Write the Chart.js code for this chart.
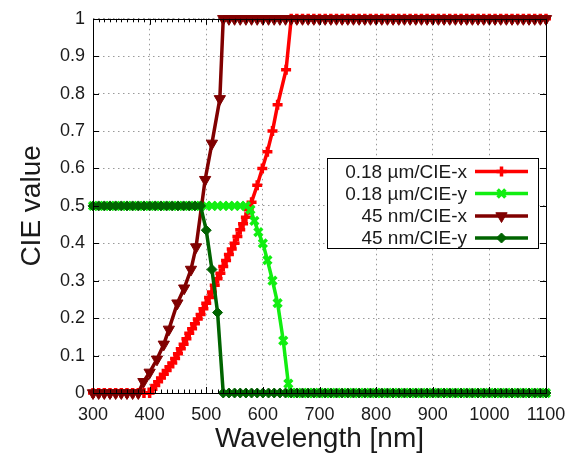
<!DOCTYPE html>
<html>
<head>
<meta charset="utf-8">
<title>CIE value vs wavelength</title>
<script src="https://cdn.jsdelivr.net/npm/chart.js@4.4.1/dist/chart.umd.min.js"></script>
<style>
  html, body { margin: 0; padding: 0; background: #fff; }
  canvas { display: block; }
</style>
</head>
<body>
<canvas id="cie-chart" width="579" height="459"></canvas>
<script>
// Series labels
const seriesNames = ['0.18 \u00b5m/CIE-x', '0.18 \u00b5m/CIE-y', '45 nm/CIE-x', '45 nm/CIE-y'];

// 0.18 um / CIE-x
const wlRedX = [300, 310, 320, 330, 340, 350, 360, 370, 380, 390, 400,
  405, 410, 415, 420, 425, 430, 435, 440, 445, 450, 455, 460, 465, 470, 475, 480, 485, 490,
  495, 500, 505, 510, 515, 520, 525, 530, 535, 540, 545, 550, 555, 560, 565, 570, 575, 580,
  590, 599, 608, 617, 626, 641, 650,
  660, 670, 680, 690, 700, 710, 720, 730, 740, 750, 760, 770, 780, 790, 800, 810, 820, 830,
  840, 850, 860, 870, 880, 890, 900, 910, 920, 930, 940, 950, 960, 970, 980, 990, 1000,
  1010, 1020, 1030, 1040, 1050, 1060, 1070, 1080, 1090, 1100];
const cieRedX = [0, 0, 0, 0, 0, 0, 0, 0, 0, 0, 0,
  0.01, 0.02, 0.03, 0.04, 0.05, 0.06, 0.07, 0.08, 0.092, 0.105, 0.118, 0.13, 0.145, 0.16, 0.172, 0.185, 0.198, 0.21,
  0.225, 0.24, 0.255, 0.27, 0.288, 0.305, 0.32, 0.338, 0.354, 0.37, 0.385, 0.40, 0.418, 0.436, 0.452, 0.47, 0.49, 0.51,
  0.555, 0.60, 0.645, 0.70, 0.77, 0.864, 1,
  1, 1, 1, 1, 1, 1, 1, 1, 1, 1, 1, 1, 1, 1, 1, 1, 1, 1,
  1, 1, 1, 1, 1, 1, 1, 1, 1, 1, 1, 1, 1, 1, 1, 1, 1,
  1, 1, 1, 1, 1, 1, 1, 1, 1, 1];

// 0.18 um / CIE-y
const wlRedY = [300, 310, 320, 330, 340, 350, 360, 370, 380, 390, 400, 410, 420, 430,
  440, 450, 460, 470, 480, 490, 500, 510, 520, 530, 540, 550, 560, 570,
  578, 585, 592, 600, 608, 617, 626, 636, 645, 650,
  660, 670, 680, 690, 700, 710, 720, 730, 740, 750, 760, 770, 780, 790, 800, 810, 820, 830,
  840, 850, 860, 870, 880, 890, 900, 910, 920, 930, 940, 950, 960, 970, 980, 990, 1000,
  1010, 1020, 1030, 1040, 1050, 1060, 1070, 1080, 1090, 1100];
const cieRedY = [0.5, 0.5, 0.5, 0.5, 0.5, 0.5, 0.5, 0.5, 0.5, 0.5, 0.5, 0.5, 0.5, 0.5,
  0.5, 0.5, 0.5, 0.5, 0.5, 0.5, 0.5, 0.5, 0.5, 0.5, 0.5, 0.5, 0.5, 0.5,
  0.49, 0.46, 0.43, 0.40, 0.355, 0.30, 0.24, 0.14, 0.025, 0,
  0, 0, 0, 0, 0, 0, 0, 0, 0, 0, 0, 0, 0, 0, 0, 0, 0, 0,
  0, 0, 0, 0, 0, 0, 0, 0, 0, 0, 0, 0, 0, 0, 0, 0, 0,
  0, 0, 0, 0, 0, 0, 0, 0, 0, 0];

// 45 nm / CIE-x
const wlNanoX = [300, 310, 320, 330, 340, 350, 360, 370, 380,
  389, 400, 413, 425, 434, 449, 461, 473, 482, 498, 510, 524, 530,
  540, 550, 560, 570, 580, 590, 600, 610, 620, 630, 640, 650, 660, 670, 680, 690, 700,
  710, 720, 730, 740, 750, 760, 770, 780, 790, 800, 810, 820, 830, 840, 850, 860, 870,
  880, 890, 900, 910, 920, 930, 940, 950, 960, 970, 980, 990, 1000, 1010, 1020, 1030,
  1040, 1050, 1060, 1070, 1080, 1090, 1100];
const cieNanoX = [0, 0, 0, 0, 0, 0, 0, 0, 0,
  0.03, 0.055, 0.09, 0.13, 0.17, 0.24, 0.28, 0.33, 0.39, 0.57, 0.667, 0.786, 1,
  1, 1, 1, 1, 1, 1, 1, 1, 1, 1, 1, 1, 1, 1, 1, 1, 1,
  1, 1, 1, 1, 1, 1, 1, 1, 1, 1, 1, 1, 1, 1, 1, 1, 1,
  1, 1, 1, 1, 1, 1, 1, 1, 1, 1, 1, 1, 1, 1, 1, 1,
  1, 1, 1, 1, 1, 1, 1];

// 45 nm / CIE-y
const wlNanoY = [300, 310, 320, 330, 340, 350, 360, 370, 380, 390, 400, 410, 420, 430,
  440, 450, 460, 470, 480, 490, 500, 510, 520, 530,
  540, 550, 560, 570, 580, 590, 600, 610, 620, 630, 640, 650, 660, 670, 680, 690, 700,
  710, 720, 730, 740, 750, 760, 770, 780, 790, 800, 810, 820, 830, 840, 850, 860, 870,
  880, 890, 900, 910, 920, 930, 940, 950, 960, 970, 980, 990, 1000, 1010, 1020, 1030,
  1040, 1050, 1060, 1070, 1080, 1090, 1100];
const cieNanoY = [0.5, 0.5, 0.5, 0.5, 0.5, 0.5, 0.5, 0.5, 0.5, 0.5, 0.5, 0.5, 0.5, 0.5,
  0.5, 0.5, 0.5, 0.5, 0.5, 0.5, 0.435, 0.33, 0.215, 0,
  0, 0, 0, 0, 0, 0, 0, 0, 0, 0, 0, 0, 0, 0, 0, 0, 0,
  0, 0, 0, 0, 0, 0, 0, 0, 0, 0, 0, 0, 0, 0, 0, 0, 0,
  0, 0, 0, 0, 0, 0, 0, 0, 0, 0, 0, 0, 0, 0, 0, 0,
  0, 0, 0, 0, 0, 0, 0];

const FONT = "'Liberation Sans', Arial, sans-serif";
const TEXT_COLOR = '#1a1a1a';

function points(xs, ys) {
  return xs.map((x, i) => ({ x: x, y: ys[i] }));
}

function series(label, xs, ys, color, style, extra) {
  return Object.assign({
    label: label,
    data: points(xs, ys),
    borderColor: color,
    backgroundColor: color,
    borderWidth: 3.5,
    pointStyle: style,
    pointBorderColor: color,
    pointBackgroundColor: color,
    clip: false,
    tension: 0
  }, extra);
}

const datasets = [
  series(seriesNames[0], wlRedX, cieRedX, '#ff0000', 'cross',
    { pointRadius: 5, pointBorderWidth: 3.5, order: 4 }),
  series(seriesNames[1], wlRedY, cieRedY, '#11ee11', 'crossRot',
    { pointRadius: 5.5, pointBorderWidth: 3.5, order: 3 }),
  series(seriesNames[2], wlNanoX, cieNanoX, '#800000', 'triangle',
    { pointRadius: 6.5, pointBorderWidth: 1, pointRotation: 180, order: 2 }),
  series(seriesNames[3], wlNanoY, cieNanoY, '#006400', 'rectRot',
    { pointRadius: 5, pointBorderWidth: 1, order: 1 })
];

// Box border plus inward tick marks (minor every 10 nm on top/bottom)
const frameTicks = {
  id: 'frameTicks',
  afterDatasetsDraw(chart) {
    const { ctx, chartArea: a, scales: { x, y } } = chart;
    ctx.save();
    ctx.strokeStyle = '#000';
    ctx.lineWidth = 1;
    ctx.beginPath();
    for (let v = x.min; v <= x.max; v += 10) {
      const px = Math.round(x.getPixelForValue(v)) + 0.5;
      const len = v % 100 === 0 ? 6 : 3.5;
      ctx.moveTo(px, a.bottom);
      ctx.lineTo(px, a.bottom - len);
      ctx.moveTo(px, a.top);
      ctx.lineTo(px, a.top + len);
    }
    y.ticks.forEach(t => {
      const py = Math.round(y.getPixelForValue(t.value)) + 0.5;
      ctx.moveTo(a.left, py);
      ctx.lineTo(a.left + 6, py);
      ctx.moveTo(a.right, py);
      ctx.lineTo(a.right - 6, py);
    });
    ctx.stroke();
    ctx.strokeRect(Math.round(a.left) + 0.5, Math.round(a.top) + 0.5,
      Math.round(a.right - a.left), Math.round(a.bottom - a.top));
    ctx.restore();
  }
};

// Key box inside the plot: text right-aligned, line sample with marker on the right
const insideKey = {
  id: 'insideKey',
  afterDraw(chart) {
    const ctx = chart.ctx;
    const box = { left: 327.5, top: 158.5, width: 211, height: 90 };
    const rowY = [171.5, 193.5, 216, 238];
    ctx.save();
    ctx.fillStyle = '#fff';
    ctx.fillRect(box.left, box.top, box.width, box.height);
    ctx.strokeStyle = '#000';
    ctx.lineWidth = 1;
    ctx.strokeRect(box.left, box.top, box.width, box.height);
    ctx.font = '19px ' + FONT;
    ctx.textAlign = 'right';
    ctx.textBaseline = 'middle';
    const drawPoint = Chart.helpers && Chart.helpers.drawPoint;
    chart.data.datasets.forEach((ds, i) => {
      const yy = rowY[i];
      ctx.fillStyle = TEXT_COLOR;
      ctx.fillText(ds.label, 467, yy + 1);
      ctx.strokeStyle = ds.borderColor;
      ctx.lineWidth = ds.borderWidth;
      ctx.beginPath();
      ctx.moveTo(475, yy);
      ctx.lineTo(528, yy);
      ctx.stroke();
      if (drawPoint) {
        ctx.fillStyle = ds.pointBackgroundColor;
        ctx.strokeStyle = ds.pointBorderColor;
        ctx.lineWidth = ds.pointBorderWidth;
        drawPoint(ctx, {
          pointStyle: ds.pointStyle,
          radius: ds.pointRadius,
          rotation: ds.pointRotation || 0,
          borderWidth: ds.pointBorderWidth
        }, 501.5, yy);
      }
    });
    ctx.restore();
  }
};

const chart = new Chart(document.getElementById('cie-chart').getContext('2d'), {
  type: 'line',
  data: { datasets: datasets },
  options: {
    responsive: false,
    animation: false,
    events: [],
    devicePixelRatio: 1,
    layout: { padding: { left: 0, right: 33, top: 15, bottom: 0 } },
    plugins: {
      legend: { display: false },
      tooltip: { enabled: false }
    },
    scales: {
      x: {
        type: 'linear',
        min: 300,
        max: 1100,
        afterFit: s => { s.height = 66; },
        ticks: {
          stepSize: 100,
          padding: 11,
          color: TEXT_COLOR,
          font: { family: FONT, size: 18 },
          maxRotation: 0,
          callback: v => String(v)
        },
        grid: { color: '#9a9a9a', lineWidth: 1, drawTicks: false },
        border: { display: false, dash: [1.5, 3.5] },
        title: {
          display: true,
          text: 'Wavelength [nm]',
          color: TEXT_COLOR,
          font: { family: FONT, size: 28 },
          padding: { top: 0, bottom: 3 }
        }
      },
      y: {
        type: 'linear',
        min: 0,
        max: 1,
        afterFit: s => { s.width = 93; },
        ticks: {
          stepSize: 0.1,
          padding: 8,
          color: TEXT_COLOR,
          font: { family: FONT, size: 18 },
          callback: v => String(Number(v.toFixed(1)))
        },
        grid: { color: '#9a9a9a', lineWidth: 1, drawTicks: false },
        border: { display: false, dash: [1.5, 3.5] },
        title: {
          display: true,
          text: 'CIE value',
          color: TEXT_COLOR,
          font: { family: FONT, size: 28 },
          padding: { top: 15, bottom: 0 }
        }
      }
    }
  },
  plugins: [frameTicks, insideKey]
});
</script>
</body>
</html>
